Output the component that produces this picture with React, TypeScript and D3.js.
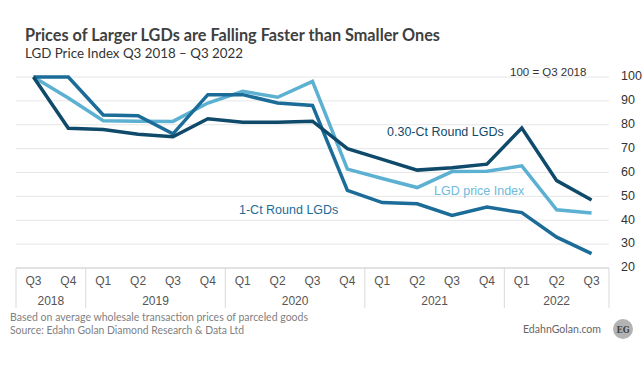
import * as d3 from "d3";

// quarters Q3 2018 .. Q3 2022
const quarters = ["Q3", "Q4", "Q1", "Q2", "Q3", "Q4", "Q1", "Q2", "Q3", "Q4", "Q1", "Q2", "Q3", "Q4", "Q1", "Q2", "Q3"];
const years = ["2018", "2019", "2020", "2021", "2022"];
const quartersPerYear = [2, 4, 4, 4, 3];
const yTicks = [20, 30, 40, 50, 60, 70, 80, 90, 100];

const priceIndex = [100, 91.2, 81.7, 81.5, 81.4, 89.1, 94, 91.5, 98.2, 61.4, 57.5, 53.7, 60.4, 60.5, 62.8, 44.4, 43];
const round030 = [100, 78.5, 78, 76, 75, 82.5, 81, 81, 81.5, 70, 65.5, 61, 62, 63.5, 78.6, 56.6, 48.5];
const round1 = [100, 100, 84.1, 83.8, 76.2, 92.6, 92.6, 89.1, 88.1, 52.5, 47.4, 46.9, 42, 45.5, 43.2, 32.9, 26];

const W = 643, H = 367;
const left = 16, right = 609, top = 77, bottom = 268;

export default function App() {
  const keys = quarters.map((q, i) => i);
  const x = d3.scaleBand<number>().domain(keys).range([left, right]).padding(0);
  const y = d3.scaleLinear().domain([20, 100]).range([bottom, top]);
  const cx = (i: number) => (x(i) as number) + x.bandwidth() / 2;

  const line = d3
    .line<number>()
    .x((d, i) => cx(i))
    .y((d) => y(d));

  const series = [
    { name: "LGD price Index", values: priceIndex, color: "#5cb0d2", text: "#6dbadb", lx: 434, ly: 192 },
    { name: "1-Ct Round LGDs", values: round1, color: "#1b6c98", text: "#1b6c98", lx: 239, ly: 211 },
    { name: "0.30-Ct Round LGDs", values: round030, color: "#0f4a6b", text: "#0f4a6b", lx: 387, ly: 133 },
  ];

  // year group boundaries
  let acc = 0;
  const yearGroups = years.map((yr, k) => {
    const start = acc;
    acc += quartersPerYear[k];
    return { yr, start, end: acc };
  });
  const boundary = (i: number) => (i >= keys.length ? right : (x(i) as number));

  return (
    <svg width={W} height={H} style={{ position: "absolute", left: 0, top: 0, background: "#fff" }}>
      {/* title */}
      <text x={25} y={41} fontFamily="Lato" fontWeight={700} fontSize={16.5} fill="#404040" textLength={415} lengthAdjust="spacingAndGlyphs">
        Prices of Larger LGDs are Falling Faster than Smaller Ones
      </text>
      <text x={25} y={58} fontFamily="Lato" fontSize={14} fill="#333" textLength={218} lengthAdjust="spacingAndGlyphs">
        LGD Price Index Q3 2018 – Q3 2022
      </text>
      <text x={510} y={73} dominantBaseline="middle" fontFamily="Liberation Sans" fontSize={11.5} fill="#333">
        100 = Q3 2018
      </text>

      {/* gridlines */}
      {yTicks.filter((t) => t > 20).map((t) => (
        <line key={t} x1={left} x2={right} y1={y(t)} y2={y(t)} stroke="#e6e6e6" strokeWidth={1} />
      ))}
      {yTicks.map((t) => (
        <text key={t} x={621} y={y(t)} dominantBaseline="middle" fontFamily="Liberation Sans" fontSize={12.5} fill="#333">
          {t}
        </text>
      ))}

      {/* category axis */}
      <line x1={left} x2={right} y1={bottom} y2={bottom} stroke="#d9d9d9" strokeWidth={1.5} />
      {yearGroups.map((g) => (
        <line key={"b" + g.yr} x1={boundary(g.start)} x2={boundary(g.start)} y1={bottom} y2={308} stroke="#d9d9d9" />
      ))}
      <line x1={right} x2={right} y1={bottom} y2={308} stroke="#d9d9d9" />
      {quarters.map((q, i) => (
        <text key={"q" + i} x={cx(i)} y={282} textAnchor="middle" dominantBaseline="middle" fontFamily="Liberation Sans" fontSize={12} fill="#555">
          {q}
        </text>
      ))}
      {yearGroups.map((g) => (
        <text key={"y" + g.yr} x={(boundary(g.start) + boundary(g.end)) / 2} y={302} textAnchor="middle" dominantBaseline="middle" fontFamily="Liberation Sans" fontSize={12} fill="#555">
          {g.yr}
        </text>
      ))}

      {/* lines */}
      {series.map((s) => (
        <path key={s.name} d={line(s.values) as string} fill="none" stroke={s.color} strokeWidth={3.5} />
      ))}
      {series.map((s) => (
        <text key={"l" + s.name} x={s.lx} y={s.ly} dominantBaseline="middle" fontFamily="Liberation Sans" fontSize={12.5} fill={s.text}>
          {s.name}
        </text>
      ))}

      {/* footer */}
      <text x={10} y={321} fontFamily="Lato" fontSize={11.5} fill="#7f7f7f" textLength={298} lengthAdjust="spacingAndGlyphs">
        Based on average wholesale transaction prices of parceled goods
      </text>
      <text x={10} y={334} fontFamily="Lato" fontSize={11.5} fill="#7f7f7f" textLength={234} lengthAdjust="spacingAndGlyphs">
        Source: Edahn Golan Diamond Research &amp; Data Ltd
      </text>
      <text x={523} y={333} fontFamily="Lato" fontSize={11.5} fill="#666" textLength={78} lengthAdjust="spacingAndGlyphs">
        EdahnGolan.com
      </text>
      <circle cx={623} cy={329} r={10} fill="#b3b3b3" />
      <text x={623} y={330} textAnchor="middle" dominantBaseline="middle" fontFamily="DejaVu Serif" fontWeight={700} fontSize={9.5} fill="#404040" textLength={13} lengthAdjust="spacingAndGlyphs">
        EG
      </text>
    </svg>
  );
}
